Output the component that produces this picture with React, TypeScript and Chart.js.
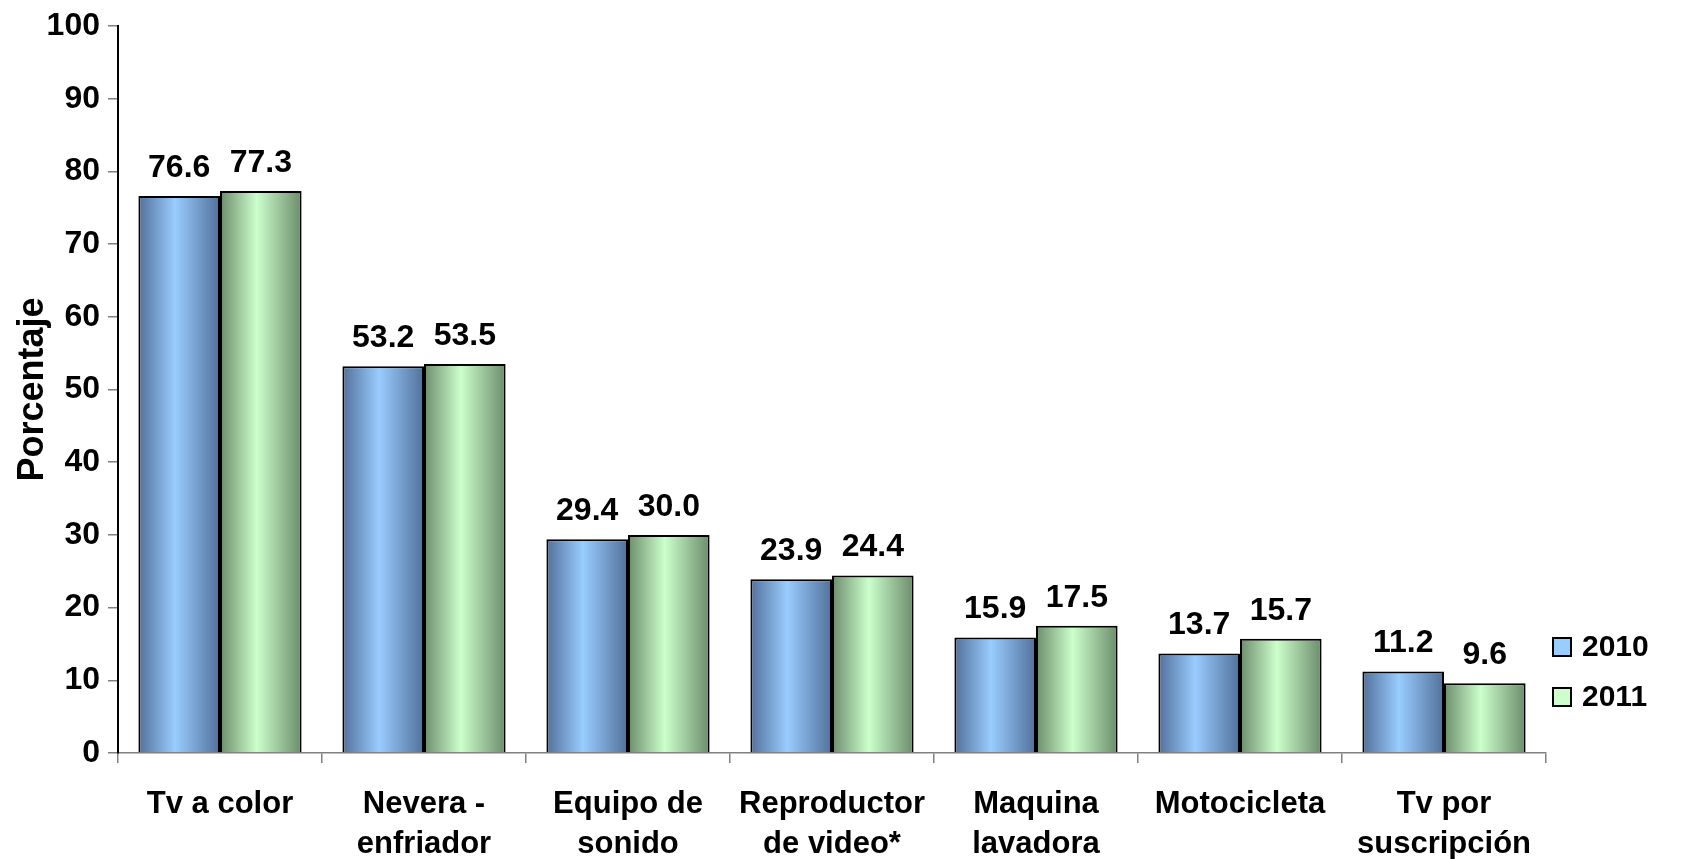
import React, { useEffect, useRef } from "react";
import { Chart, registerables } from "chart.js";

Chart.register(...registerables);

const categories: string[][] = [
  ["Tv a color"],
  ["Nevera -", "enfriador"],
  ["Equipo de", "sonido"],
  ["Reproductor", "de video*"],
  ["Maquina", "lavadora"],
  ["Motocicleta"],
  ["Tv por", "suscripción"],
];
const seriesNames = ["2010", "2011"];
const values2010 = [76.6, 53.2, 29.4, 23.9, 15.9, 13.7, 11.2];
const values2011 = [77.3, 53.5, 30.0, 24.4, 17.5, 15.7, 9.6];
const yMin = 0;
const yMax = 100;
const yStep = 10;

const FONT = "'Liberation Sans', Arial, sans-serif";
const palette = [
  { dark: "#52709a", light: "#99ccff" },
  { dark: "#6c8c6c", light: "#ccffcc" },
];

function barGradient(ctx: any) {
  const pal = palette[ctx.datasetIndex] || palette[0];
  const chart = ctx.chart;
  const xs = chart.scales && chart.scales.x;
  if (!xs || ctx.type !== "data" || !xs.width) return pal.light;
  const center = xs.getPixelForValue(ctx.dataIndex);
  const catW = xs.width / categories.length;
  const bw = (catW * 0.8) / 2;
  const left = ctx.datasetIndex === 0 ? center - bw : center;
  const g = chart.ctx.createLinearGradient(left, 0, left + bw, 0);
  g.addColorStop(0, pal.dark);
  g.addColorStop(0.45, pal.light);
  g.addColorStop(1, pal.dark);
  return g;
}

const valueLabels = {
  id: "valueLabels",
  afterDatasetsDraw(chart: any) {
    const c = chart.ctx;
    c.save();
    c.font = `bold 32px ${FONT}`;
    c.fillStyle = "#000";
    c.textAlign = "center";
    c.textBaseline = "middle";
    chart.data.datasets.forEach((ds: any, di: number) => {
      const meta = chart.getDatasetMeta(di);
      meta.data.forEach((el: any, i: number) => {
        c.fillText(Number(ds.data[i]).toFixed(1), el.x, el.y - 28);
      });
    });
    c.restore();
  },
};

const sideLegend = {
  id: "sideLegend",
  afterDraw(chart: any) {
    const c = chart.ctx;
    const area = chart.chartArea;
    c.save();
    chart.data.datasets.forEach((ds: any, di: number) => {
      const pal = palette[di];
      const size = 18;
      const x = area.right + 7;
      const cy = 647 + di * 50;
      c.fillStyle = pal.light;
      c.fillRect(x, cy - size / 2, size, size);
      c.lineWidth = 2;
      c.strokeStyle = "#000";
      c.strokeRect(x, cy - size / 2, size, size);
      c.fillStyle = "#000";
      c.font = `bold 30px ${FONT}`;
      c.textAlign = "left";
      c.textBaseline = "middle";
      c.fillText(ds.label, x + size + 11, cy + 1);
    });
    c.restore();
  },
};

export default function App() {
  const ref = useRef<HTMLCanvasElement | null>(null);
  useEffect(() => {
    if (!ref.current) return;
    const chart = new Chart(ref.current, {
      type: "bar",
      data: {
        labels: categories,
        datasets: [
          {
            label: seriesNames[0],
            data: values2010,
            backgroundColor: barGradient,
            borderColor: "#000",
            borderWidth: 2,
            categoryPercentage: 0.8,
            barPercentage: 1.0,
          },
          {
            label: seriesNames[1],
            data: values2011,
            backgroundColor: barGradient,
            borderColor: "#000",
            borderWidth: 2,
            categoryPercentage: 0.8,
            barPercentage: 1.0,
          },
        ],
      },
      options: {
        responsive: false,
        animation: false,
        layout: { padding: { top: 26, right: 136, left: 0, bottom: 0 } },
        plugins: {
          legend: { display: false },
          tooltip: { enabled: false },
        },
        scales: {
          x: {
            offset: true,
            grid: {
              offset: true,
              drawOnChartArea: false,
              drawTicks: true,
              tickLength: 10,
              color: "#808080",
              lineWidth: 1.5,
            },
            border: { color: "#808080", width: 1.5 },
            ticks: {
              autoSkip: false,
              maxRotation: 0,
              minRotation: 0,
              padding: 21,
              color: "#000",
              font: { family: FONT, size: 31, weight: "bold", lineHeight: 40 / 31 },
            },
            afterFit(scale: any) {
              scale.height = 106;
              scale.paddingLeft = 0;
              scale.paddingRight = 0;
            },
          },
          y: {
            min: yMin,
            max: yMax,
            grid: {
              drawOnChartArea: false,
              drawTicks: true,
              tickLength: 10,
              color: "#808080",
              lineWidth: 1.5,
            },
            border: { color: "#000", width: 2 },
            ticks: {
              stepSize: yStep,
              padding: 8,
              color: "#000",
              font: { family: FONT, size: 32, weight: "bold" },
            },
            title: {
              display: true,
              text: "Porcentaje",
              color: "#000",
              padding: { top: 11, bottom: 0 },
              font: { family: FONT, size: 36, weight: "bold", lineHeight: 1.2 },
            },
            afterFit(scale: any) {
              scale.width = 118;
              scale.paddingTop = 0;
              scale.paddingBottom = 0;
            },
          },
        },
      },
      plugins: [valueLabels, sideLegend],
    });
    return () => chart.destroy();
  }, []);
  return (
    <div style={{ position: "absolute", left: 0, top: 0, width: 1682, height: 859, background: "#fff" }}>
      <canvas ref={ref} width={1682} height={859} style={{ display: "block" }} />
    </div>
  );
}
